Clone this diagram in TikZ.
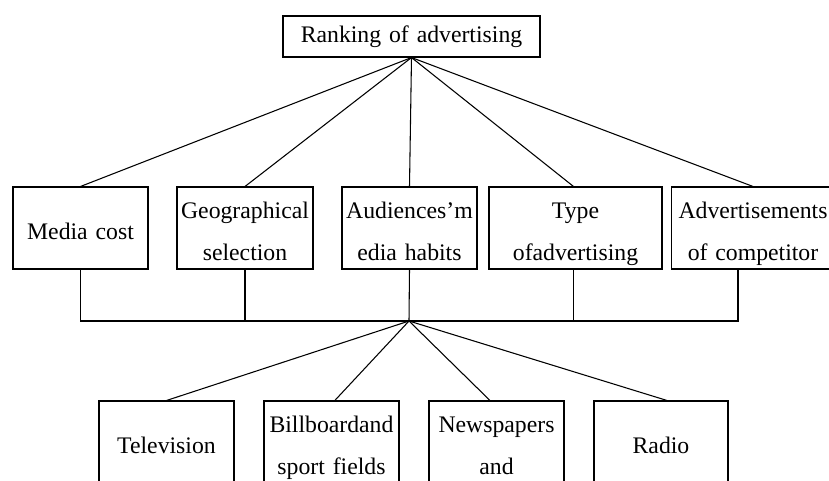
\documentclass[tikz,border=0pt]{standalone}
\usepackage{fontspec}
\setmainfont{Liberation Serif}
\newcommand{\ls}{\rule[-4pt]{0pt}{24.5pt}}
\tikzset{
  itembox/.style={draw, thick, inner sep=0pt, align=center, minimum height=61.5pt,
    font=\fontsize{17.8}{31.5}\selectfont},
}
\begin{document}
\begin{tikzpicture}[x=0.75pt,y=-0.75pt]
        \useasboundingbox (0,0) rectangle (829,480);

        \node[itembox, minimum height=30.75pt, minimum width=192.75pt, text width=192.75pt] (rank) at (411.5,36.5) {Ranking of advertising};

        \node[itembox, minimum width=101.25pt, text width=101.25pt] (media) at (80.5,228) {\ls Media cost};
        \node[itembox, minimum width=102pt, text width=102pt] (geo) at (245,228) {\ls Geographical\\\ls selection};
        \node[itembox, minimum width=101.25pt, text width=101.25pt] (aud) at (409.5,228) {\ls Audiences'm\\\ls edia habits};
        \node[itembox, minimum width=129.75pt, text width=129.75pt] (type) at (575.5,228) {\ls Type\\\ls ofadvertising};
        \node[itembox, minimum width=122.25pt, text width=122.25pt] (adv) at (753,228) {\ls Advertisements\\\ls of competitor};

        \node[itembox, minimum width=101.25pt, text width=101.25pt] (tv) at (166.5,442) {\ls Television};
        \node[itembox, minimum width=101.25pt, text width=101.25pt] (bill) at (331.5,442) {\ls Billboardand\\\ls sport fields};
        \node[itembox, minimum width=101.25pt, text width=101.25pt] (news) at (496.5,442) {\ls Newspapers\\\ls and};
        \node[itembox, minimum width=100.5pt, text width=100.5pt] (radio) at (661,442) {\ls Radio};

        \coordinate (hub) at (409,321);

        \draw[thick] (rank.south) -- (media.north);
        \draw[thick] (rank.south) -- (geo.north);
        \draw[thick] (rank.south) -- (aud.north);
        \draw[thick] (rank.south) -- ([xshift=-1.5pt]type.north);
        \draw[thick] (rank.south) -- (adv.north);

        \draw[thick] (media.south) |- (hub) -| ([xshift=-11.25pt]adv.south);
        \draw[thick] (geo.south) -- (geo.south |- hub);
        \draw[thick] (aud.south) -- (hub);
        \draw[thick] ([xshift=-1.5pt]type.south) -- ([xshift=-1.5pt]type.south |- hub);

        \draw[thick] (hub) -- (tv.north);
        \draw[thick] (hub) -- ([xshift=2.5pt]bill.north);
        \draw[thick] (hub) -- ([xshift=-4.9pt]news.north);
        \draw[thick] (hub) -- ([xshift=4.5pt]radio.north);
    \end{tikzpicture}
\end{document}
